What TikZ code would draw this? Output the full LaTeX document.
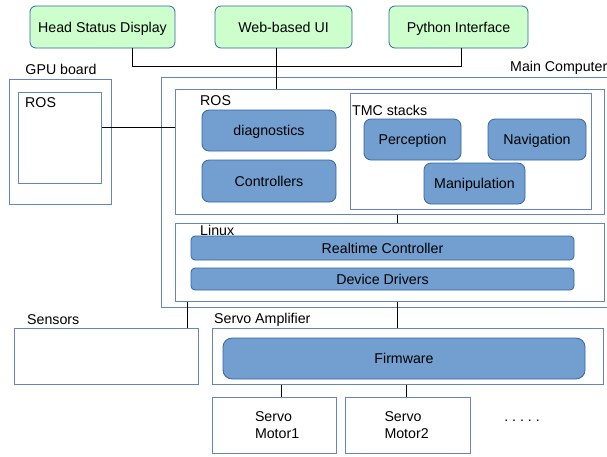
\documentclass[tikz,border=0pt]{standalone}
\usepackage{fontspec}
\setmainfont{Liberation Sans}
\usepackage{xcolor}
\usepackage{tikz}
\usetikzlibrary{positioning}
\definecolor{uigreen}{RGB}{204,255,204}
\definecolor{modblue}{RGB}{114,159,207}
\definecolor{modline}{RGB}{52,101,164}
\definecolor{frameline}{RGB}{100,134,188}
\tikzstyle{uibox} = [draw=modline, fill=uigreen, rounded corners=6pt, line width=0.8pt, minimum height=42pt, inner sep=0pt, text height=10pt, text depth=0pt]
\tikzstyle{module} = [draw=modline, fill=modblue, rounded corners=7pt, line width=0.8pt, inner sep=0pt, text height=10pt, text depth=0pt]
\tikzstyle{frame} = [draw=frameline, line width=1pt, inner sep=0pt]
\tikzstyle{tag} = [inner sep=0pt, anchor=west]
\tikzstyle{wire} = [draw=black, line width=0.8pt]

\begin{document}
\begin{tikzpicture}[x=1pt, y=-1pt, font=\fontsize{14.2}{17}\selectfont]
    \useasboundingbox (0,0) rectangle (607,456);
    % user interfaces
    \node[uibox, minimum width=145pt] (head) at (102.5,27) {Head Status Display};
    \node[uibox, minimum width=137pt] (webui) at (283.5,27) {Web-based UI};
    \node[uibox, minimum width=139pt] (python) at (458.5,27) {Python Interface};
    % GPU board
    \node[frame, minimum width=102pt, minimum height=125pt] (gpu) at (60,141.5) {};
    \node[inner sep=0pt] (gpulabel) at (61,69) {GPU board};
    \node[frame, minimum width=83pt, minimum height=91pt] (gpuros) at (59.5,137.5) {};
    \node[tag] (gpuroslabel) at (25,103) {ROS};
    % main computer
    \node[frame, minimum width=459pt, minimum height=230pt] (main) at (390.5,192) {};
    \node[inner sep=0pt, anchor=east] (mainlabel) at (607.5,68) {Main Computer};
    \node[frame, minimum width=429pt, minimum height=125pt] (ros) at (389.5,151.5) {};
    \node[tag] (roslabel) at (200,101) {ROS};
    \node[module, minimum width=134pt, minimum height=41pt] (diag) at (269,130.5) {diagnostics};
    \node[module, minimum width=134pt, minimum height=42pt] (ctrl) at (269,181) {Controllers};
    \node[frame, minimum width=241pt, minimum height=116pt] (tmc) at (470.5,151) {};
    \node[tag] (tmclabel) at (352,110) {TMC stacks};
    \node[module, minimum width=97pt, minimum height=41pt] (perc) at (412.5,139.5) {Perception};
    \node[module, minimum width=98pt, minimum height=41pt] (navi) at (537,139.5) {Navigation};
    \node[module, minimum width=101pt, minimum height=41pt] (mani) at (474.5,183.5) {Manipulation};
    \node[frame, minimum width=429pt, minimum height=78pt] (linux) at (389.5,262) {};
    \node[tag] (linuxlabel) at (200,230) {Linux};
    \node[module, rounded corners=4pt, minimum width=383pt, minimum height=24pt] (rt) at (382.5,248) {Realtime Controller};
    \node[module, rounded corners=4pt, minimum width=383pt, minimum height=22pt] (dd) at (382.5,279) {Device Drivers};
    % hardware
    \node[frame, minimum width=184pt, minimum height=56pt] (sensors) at (106,356) {};
    \node[tag] (sensorslabel) at (27,320) {Sensors};
    \node[frame, minimum width=391pt, minimum height=56pt] (amp) at (407.5,356) {};
    \node[tag] (amplabel) at (214,320) {Servo Amplifier};
    \node[module, rounded corners=9pt, minimum width=362pt, minimum height=41pt] (fw) at (404,358.5) {Firmware};
    \node[frame, align=left, minimum width=124pt, minimum height=56pt, text width=38pt] (m1) at (274,425) {Servo\\Motor1};
    \node[frame, align=left, minimum width=125pt, minimum height=56pt, text width=46pt] (m2) at (407.5,425) {Servo\\Motor2};
    \node[inner sep=0pt] (more) at (522,421) {.\ .\ .\ .\ .};

    % connections
    \coordinate (hdtap) at (132,66);
    \coordinate (pytap) at (461,66);
    \coordinate (bus) at (276,66);
    \draw[wire] (head.south -| hdtap) -- (hdtap) -- (pytap) -- (python.south -| pytap);
    \draw[wire] (webui.south -| bus) -- (ros.north -| bus);
    \coordinate (gpulink) at (0,127);
    \draw[wire] (gpuros.east |- gpulink) -- (ros.west |- gpulink);
    \coordinate (stack) at (397,0);
    \draw[wire] (ros.south -| stack) -- (linux.north -| stack);
    \draw[wire] (linux.south -| stack) -- (amp.north -| stack);
    \coordinate (sensorlink) at (187,0);
    \draw[wire] (linux.south -| sensorlink) -- (sensors.north -| sensorlink);
    \draw[wire] ([xshift=7pt]m1.north) -- ([xshift=7pt]m1.north |- amp.south);
    \draw[wire] ([xshift=-1.5pt]m2.north) -- ([xshift=-1.5pt]m2.north |- amp.south);
\end{tikzpicture}
\end{document}
